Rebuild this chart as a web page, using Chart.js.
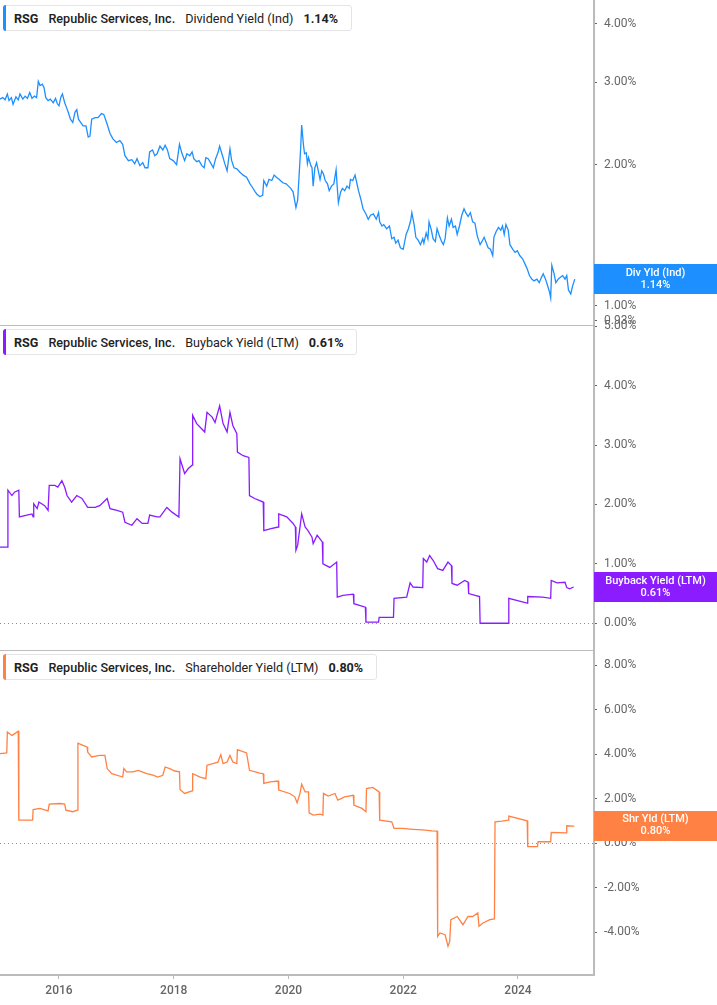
<!DOCTYPE html>
<html><head><meta charset="utf-8">
<script src="https://cdn.jsdelivr.net/npm/chart.js@4.4.0/dist/chart.umd.min.js"></script>
<style>
html,body{margin:0;padding:0;background:#fff;}
#wrap{position:relative;width:717px;height:1005px;overflow:hidden;font-family:Roboto,"Noto Sans",sans-serif;}
canvas{position:absolute;left:0;top:-20px;}
.lg{position:absolute;left:3px;height:26px;display:flex;align-items:center;gap:10px;padding:0 13px 0 10px;background:#fff;border:1px solid #e4e4e4;border-radius:3px;font-size:12.6px;color:#222;box-sizing:border-box;white-space:nowrap;z-index:5;}
.lg .bar{position:absolute;left:-1px;top:-1px;bottom:-1px;width:3px;border-radius:3px 0 0 3px;}
.b{font-weight:700}
.m{font-weight:500}
</style></head>
<body>
<div id="wrap">
<canvas id="c1" width="717" height="1025"></canvas>
<canvas id="c2" width="717" height="1025"></canvas>
<canvas id="c3" width="717" height="1025"></canvas>
<div class="lg" id="lg1" style="top:5px"></div>
<div class="lg" id="lg2" style="top:329px"></div>
<div class="lg" id="lg3" style="top:654px"></div>
</div>
<script>
// ---------- data ----------
const ticker = "RSG";
const company = "Republic Services, Inc.";
const xTicks = [2016, 2018, 2020, 2022, 2024];
const divTicks = [0.93, 1, 2, 3, 4];
const buybackTicks = [0, 1, 2, 3, 4, 5];
const shrTicks = [-4, -2, 0, 2, 4, 6, 8];

// [decimal year, yield %]
const divData = [[2014.97,2.76],[2015.02,2.78],[2015.06,2.75],[2015.10,2.83],[2015.13,2.74],[2015.17,2.78],[2015.20,2.69],[2015.25,2.79],[2015.29,2.75],[2015.32,2.83],
[2015.37,2.76],[2015.41,2.80],[2015.45,2.77],[2015.49,2.85],[2015.53,2.77],[2015.57,2.80],[2015.61,2.78],[2015.64,3.01],[2015.67,2.95],[2015.71,2.97],
[2015.74,2.92],[2015.77,2.78],[2015.81,2.74],[2015.85,2.76],[2015.90,2.71],[2015.94,2.77],[2015.97,2.70],[2016.00,2.67],[2016.03,2.78],[2016.06,2.83],
[2016.10,2.71],[2016.13,2.65],[2016.16,2.59],[2016.20,2.50],[2016.24,2.46],[2016.28,2.59],[2016.31,2.62],[2016.34,2.50],[2016.38,2.46],[2016.42,2.42],
[2016.47,2.42],[2016.51,2.29],[2016.54,2.30],[2016.57,2.50],[2016.63,2.52],[2016.68,2.52],[2016.74,2.57],[2016.78,2.56],[2016.83,2.46],[2016.89,2.33],
[2016.94,2.27],[2017.00,2.23],[2017.06,2.25],[2017.11,2.21],[2017.15,2.09],[2017.21,2.04],[2017.27,2.05],[2017.32,2.01],[2017.36,2.06],[2017.41,1.99],
[2017.46,2.02],[2017.50,1.97],[2017.55,1.97],[2017.58,2.13],[2017.63,2.15],[2017.67,2.09],[2017.71,2.11],[2017.76,2.19],[2017.81,2.15],[2017.85,2.20],
[2017.89,2.15],[2017.93,2.06],[2017.99,2.04],[2018.05,2.00],[2018.10,2.21],[2018.14,2.12],[2018.19,2.04],[2018.23,2.11],[2018.28,2.09],[2018.32,2.13],
[2018.35,2.06],[2018.40,2.03],[2018.44,2.04],[2018.49,1.99],[2018.53,1.97],[2018.56,2.07],[2018.60,2.06],[2018.64,2.02],[2018.69,1.97],[2018.73,2.06],
[2018.77,2.12],[2018.80,2.19],[2018.85,2.09],[2018.89,2.01],[2018.93,1.94],[2018.98,2.16],[2019.01,2.04],[2019.05,1.97],[2019.10,1.96],[2019.15,1.93],
[2019.21,1.90],[2019.27,1.88],[2019.33,1.82],[2019.37,1.79],[2019.42,1.75],[2019.45,1.73],[2019.50,1.71],[2019.55,1.72],[2019.57,1.85],[2019.62,1.80],
[2019.66,1.86],[2019.71,1.85],[2019.75,1.90],[2019.79,1.88],[2019.84,1.86],[2019.90,1.83],[2019.96,1.82],[2020.00,1.80],[2020.04,1.78],[2020.08,1.75],
[2020.13,1.62],[2020.16,1.68],[2020.21,2.14],[2020.23,2.43],[2020.26,2.21],[2020.28,2.11],[2020.31,2.12],[2020.33,2.01],[2020.35,2.07],[2020.39,1.99],
[2020.41,1.97],[2020.43,1.80],[2020.46,1.97],[2020.49,2.02],[2020.52,1.94],[2020.55,1.86],[2020.58,1.94],[2020.61,1.91],[2020.64,1.85],[2020.68,1.82],
[2020.71,1.76],[2020.75,1.80],[2020.79,1.82],[2020.83,1.95],[2020.85,1.79],[2020.87,1.66],[2020.91,1.75],[2020.94,1.78],[2020.98,1.76],[2021.02,1.80],
[2021.06,1.78],[2021.08,1.86],[2021.12,1.85],[2021.16,1.90],[2021.19,1.83],[2021.22,1.76],[2021.26,1.69],[2021.30,1.61],[2021.35,1.57],[2021.39,1.53],
[2021.43,1.56],[2021.48,1.57],[2021.53,1.53],[2021.57,1.58],[2021.59,1.51],[2021.63,1.48],[2021.66,1.49],[2021.71,1.46],[2021.76,1.48],[2021.80,1.39],
[2021.84,1.40],[2021.87,1.36],[2021.91,1.38],[2021.95,1.33],[2022.00,1.32],[2022.05,1.42],[2022.09,1.46],[2022.13,1.52],[2022.15,1.58],[2022.19,1.49],
[2022.22,1.40],[2022.26,1.38],[2022.30,1.35],[2022.34,1.39],[2022.36,1.36],[2022.40,1.43],[2022.43,1.39],[2022.45,1.51],[2022.49,1.45],[2022.52,1.39],
[2022.56,1.37],[2022.59,1.46],[2022.63,1.41],[2022.67,1.37],[2022.70,1.35],[2022.73,1.39],[2022.77,1.54],[2022.80,1.48],[2022.84,1.53],[2022.87,1.47],
[2022.91,1.48],[2022.94,1.42],[2022.98,1.48],[2023.02,1.56],[2023.06,1.61],[2023.09,1.58],[2023.13,1.55],[2023.17,1.58],[2023.21,1.51],[2023.25,1.50],
[2023.29,1.41],[2023.34,1.35],[2023.37,1.37],[2023.41,1.40],[2023.44,1.37],[2023.48,1.33],[2023.52,1.32],[2023.56,1.28],[2023.58,1.40],[2023.62,1.44],
[2023.66,1.47],[2023.70,1.45],[2023.73,1.48],[2023.76,1.42],[2023.79,1.49],[2023.83,1.45],[2023.86,1.35],[2023.91,1.32],[2023.95,1.30],[2023.99,1.31],
[2024.03,1.28],[2024.08,1.26],[2024.12,1.23],[2024.16,1.20],[2024.20,1.16],[2024.24,1.14],[2024.28,1.13],[2024.33,1.14],[2024.37,1.12],[2024.41,1.15],
[2024.44,1.17],[2024.48,1.14],[2024.51,1.11],[2024.55,1.07],[2024.57,1.04],[2024.59,1.22],[2024.63,1.17],[2024.66,1.12],[2024.70,1.14],[2024.74,1.15],
[2024.78,1.16],[2024.82,1.14],[2024.85,1.16],[2024.88,1.08],[2024.92,1.06],[2024.95,1.10],[2024.99,1.14]];

const buybackData = [[2014.97,1.28],[2015.10,1.28],[2015.11,2.24],[2015.18,2.15],[2015.23,2.21],[2015.30,2.24],[2015.31,1.79],[2015.44,1.82],[2015.53,1.84],[2015.55,1.79],
[2015.56,2.01],[2015.62,1.93],[2015.65,2.04],[2015.75,1.98],[2015.81,1.90],[2015.83,2.32],[2015.93,2.32],[2015.98,2.29],[2016.05,2.40],[2016.10,2.29],
[2016.14,2.15],[2016.22,2.04],[2016.31,2.15],[2016.40,2.10],[2016.50,1.95],[2016.63,1.95],[2016.71,1.98],[2016.84,2.10],[2016.89,1.93],[2017.01,1.90],
[2017.11,1.87],[2017.15,1.70],[2017.27,1.65],[2017.36,1.76],[2017.45,1.68],[2017.55,1.68],[2017.58,1.82],[2017.71,1.79],[2017.76,1.79],[2017.88,1.95],
[2017.97,1.87],[2018.09,1.79],[2018.11,2.77],[2018.19,2.52],[2018.25,2.60],[2018.32,2.66],[2018.33,3.50],[2018.40,3.36],[2018.49,3.27],[2018.54,3.22],
[2018.58,3.55],[2018.67,3.47],[2018.72,3.38],[2018.80,3.66],[2018.86,3.36],[2018.93,3.22],[2018.98,3.55],[2019.03,3.33],[2019.10,3.19],[2019.11,2.88],
[2019.21,2.82],[2019.31,2.79],[2019.32,2.15],[2019.41,2.10],[2019.56,2.04],[2019.57,1.56],[2019.68,1.59],[2019.82,1.62],[2019.83,1.84],[2019.97,1.79],
[2020.08,1.68],[2020.12,1.62],[2020.13,1.23],[2020.16,1.31],[2020.23,1.84],[2020.29,1.62],[2020.34,1.56],[2020.41,1.45],[2020.43,1.34],[2020.50,1.48],
[2020.59,1.37],[2020.60,1.00],[2020.72,0.94],[2020.84,1.03],[2020.85,0.44],[2020.95,0.47],[2021.13,0.49],[2021.14,0.33],[2021.34,0.27],[2021.35,0.02],
[2021.57,0.02],[2021.58,0.10],[2021.83,0.10],[2021.84,0.42],[2022.06,0.44],[2022.12,0.68],[2022.17,0.61],[2022.34,0.60],[2022.35,1.09],[2022.41,1.03],
[2022.46,1.14],[2022.52,1.06],[2022.60,0.92],[2022.69,0.89],[2022.78,1.03],[2022.84,0.97],[2022.85,0.67],[2022.94,0.64],[2023.07,0.72],[2023.13,0.69],
[2023.14,0.50],[2023.33,0.45],[2023.34,0.00],[2023.83,0.00],[2023.84,0.42],[2024.16,0.34],[2024.17,0.45],[2024.43,0.44],[2024.57,0.42],[2024.58,0.72],
[2024.68,0.68],[2024.82,0.69],[2024.85,0.60],[2024.90,0.58],[2024.97,0.61]];

const shrData = [[2014.97,4.03],[2015.09,4.06],[2015.10,5.00],[2015.18,4.85],[2015.23,4.93],[2015.29,5.04],[2015.30,1.04],[2015.54,1.04],[2015.55,1.52],[2015.67,1.57],
[2015.81,1.46],[2015.83,1.76],[2016.02,1.79],[2016.10,1.76],[2016.12,1.49],[2016.24,1.42],[2016.32,1.49],[2016.33,4.50],[2016.42,4.40],[2016.49,4.33],
[2016.50,4.10],[2016.57,3.88],[2016.71,3.95],[2016.80,3.95],[2016.84,3.36],[2016.92,3.13],[2017.11,2.98],[2017.13,3.36],[2017.18,3.21],[2017.29,3.21],
[2017.38,3.28],[2017.53,3.13],[2017.64,3.06],[2017.72,2.98],[2017.81,3.06],[2017.85,3.43],[2017.93,3.36],[2018.02,3.25],[2018.10,3.21],[2018.11,2.42],
[2018.19,2.24],[2018.32,2.36],[2018.33,3.13],[2018.46,2.98],[2018.56,2.91],[2018.58,3.51],[2018.68,3.58],[2018.77,3.65],[2018.82,3.99],[2018.86,3.58],
[2018.93,3.65],[2018.98,3.95],[2019.03,3.65],[2019.10,3.58],[2019.11,4.21],[2019.27,4.06],[2019.32,3.28],[2019.50,3.16],[2019.56,3.13],[2019.57,2.69],
[2019.68,2.76],[2019.82,2.80],[2019.83,2.39],[2020.02,2.24],[2020.11,2.09],[2020.15,1.82],[2020.20,2.24],[2020.23,2.66],[2020.29,2.31],[2020.35,2.31],
[2020.36,1.37],[2020.43,1.27],[2020.55,1.31],[2020.60,1.27],[2020.61,2.24],[2020.69,2.12],[2020.81,2.24],[2020.86,1.94],[2020.98,2.09],[2021.13,2.16],
[2021.14,1.72],[2021.28,1.57],[2021.35,1.42],[2021.36,2.46],[2021.47,2.51],[2021.58,2.31],[2021.59,1.04],[2021.80,0.97],[2021.84,0.67],[2021.99,0.67],
[2022.17,0.63],[2022.34,0.60],[2022.50,0.56],[2022.59,0.55],[2022.60,-4.18],[2022.64,-4.03],[2022.73,-4.11],[2022.78,-4.63],[2022.81,-4.41],[2022.83,-3.43],
[2022.94,-3.29],[2023.04,-3.66],[2023.13,-3.29],[2023.21,-3.29],[2023.30,-3.13],[2023.32,-3.73],[2023.39,-3.58],[2023.51,-3.43],[2023.59,-3.40],[2023.60,0.97],
[2023.72,1.00],[2023.83,1.04],[2023.84,1.22],[2024.16,1.01],[2024.17,-0.15],[2024.34,-0.15],[2024.35,0.07],[2024.57,0.07],[2024.58,0.49],[2024.84,0.47],
[2024.85,0.79],[2024.96,0.77],[2024.97,0.80]];

// ---------- chart setup ----------
const X_MIN = 2014.972, X_MAX = 2025.325;
const fmt = v => Number(v).toFixed(2) + '%';

const deco = {
  id: 'deco',
  beforeDatasetsDraw(chart, args, o) {
    const ctx = chart.ctx, a = chart.chartArea, y = chart.scales.y;
    ctx.save();
    if (o.zero) {
      const py = Math.round(y.getPixelForValue(0)) + 0.5;
      ctx.strokeStyle = '#8c8c8c'; ctx.lineWidth = 1; ctx.setLineDash([1, 3]);
      ctx.beginPath(); ctx.moveTo(a.left, py); ctx.lineTo(a.right, py); ctx.stroke();
    }
    ctx.restore();
  },
  afterDraw(chart, args, o) {
    const ctx = chart.ctx, a = chart.chartArea, y = chart.scales.y;
    ctx.save();
    if (o.sep) {
      ctx.strokeStyle = '#bdbdbd'; ctx.lineWidth = 1;
      ctx.beginPath(); ctx.moveTo(a.left, a.bottom + 0.5); ctx.lineTo(a.right, a.bottom + 0.5); ctx.stroke();
    }
    const d = chart.data.datasets[0].data;
    const last = d[d.length - 1].y;
    const cy = y.getPixelForValue(last);
    ctx.fillStyle = o.color;
    ctx.fillRect(a.right, Math.round(cy - 15), chart.width - a.right, 30);
    ctx.fillStyle = '#fff'; ctx.font = '500 11px Roboto'; ctx.textAlign = 'center'; ctx.textBaseline = 'middle';
    const cx = (a.right + chart.width) / 2;
    ctx.fillText(o.name, cx, cy - 6);
    ctx.fillText(fmt(last), cx, cy + 6);
    ctx.restore();
  }
};

function makeChart(id, cfg) {
  const xs = {
    type: 'linear', min: X_MIN, max: X_MAX, display: !!cfg.showX, position: 'bottom',
    afterFit(s) { s.height = cfg.showX ? 30 : 0; },
    afterBuildTicks(s) { s.ticks = xTicks.map(v => ({ value: v })); },
    ticks: { callback: v => String(v), color: '#666', font: { family: 'Roboto', size: 12, weight: '500' }, padding: 5, maxRotation: 0, autoSkip: false },
    grid: { drawOnChartArea: false, tickLength: 4, color: '#bbb' },
    border: { display: true, color: '#bbb', width: 2 }
  };
  return new Chart(document.getElementById(id), {
    type: 'line',
    data: { datasets: [{ data: cfg.series.map(p => ({ x: p[0], y: p[1] })), borderColor: cfg.color, borderWidth: 1.3, pointRadius: 0, tension: 0, fill: false }] },
    options: {
      responsive: false, animation: false, devicePixelRatio: 1, events: [],
      layout: { autoPadding: false, padding: { top: cfg.top, bottom: cfg.bottom, left: 0, right: 0 } },
      plugins: { legend: { display: false }, tooltip: { enabled: false },
        deco: { zero: cfg.zero, sep: cfg.sep, color: cfg.color, name: cfg.name } },
      scales: {
        x: xs,
        y: {
          type: cfg.log ? 'logarithmic' : 'linear', position: 'right', min: cfg.min, max: cfg.max, bounds: 'data',
          afterFit(s) { s.width = 123; },
          afterBuildTicks(s) { s.ticks = cfg.ticks.map(v => ({ value: v })); },
          ticks: { callback: fmt, color: '#666', font: { family: 'Roboto', size: 12 }, padding: 7, autoSkip: false },
          grid: { display: true, drawOnChartArea: false, drawTicks: true, tickLength: 3, color: '#666' },
          border: { display: true, color: '#bbb', width: 2 }
        }
      }
    },
    plugins: [deco]
  });
}

// canvases are shifted up by 20px (see CSS) so the paddings below include that offset
makeChart('c1', { series: divData, color: '#1E8FFF', name: 'Div Yld (Ind)', log: true, min: 0.910, max: 4.49, ticks: divTicks, top: 20, bottom: 680, sep: true });
makeChart('c2', { series: buybackData, color: '#8A1CFF', name: 'Buyback Yield (LTM)', min: -0.45, max: 5.02, ticks: buybackTicks, top: 345, bottom: 355, sep: true, zero: true });
makeChart('c3', { series: shrData, color: '#FF8144', name: 'Shr Yld (LTM)', min: -5.92, max: 8.69, ticks: shrTicks, top: 670, bottom: 0, zero: true, showX: true });

function legend(id, color, metric, series) {
  const el = document.getElementById(id);
  const last = series[series.length - 1][1];
  el.innerHTML = '<span class="bar" style="background:' + color + '"></span>' +
    '<span class="b">' + ticker + '</span><span class="m">' + company + '</span><span>' + metric + '</span><span class="b">' + fmt(last) + '</span>';
}
legend('lg1', '#1E8FFF', 'Dividend Yield (Ind)', divData);
legend('lg2', '#8A1CFF', 'Buyback Yield (LTM)', buybackData);
legend('lg3', '#FF8144', 'Shareholder Yield (LTM)', shrData);
</script>
</body></html>
